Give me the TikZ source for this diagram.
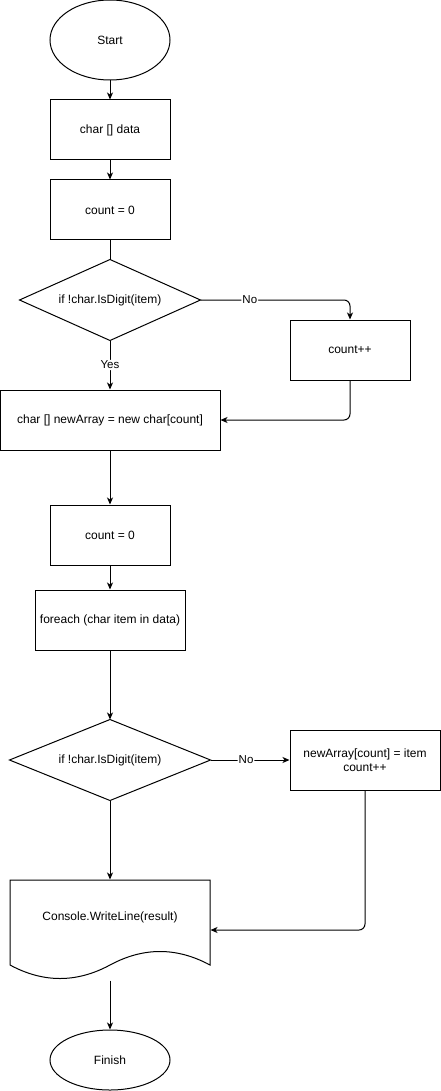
\documentclass[tikz,border=0pt]{standalone}
\usepackage{fontspec}
\setmainfont{Liberation Sans}
\usetikzlibrary{shapes.geometric,arrows.meta}
\begin{document}
\begin{tikzpicture}[x=1pt,y=-1pt,
  every node/.style={font=\fontsize{12}{14.5}\selectfont, inner sep=0pt, line width=1pt},
  procbox/.style={draw, rectangle, align=center},
  termbox/.style={draw, ellipse},
  decarea/.style={rectangle},
  conn/.style={line width=1pt, -{Stealth[length=7pt,width=6pt,inset=2pt]}, rounded corners=6pt},
  plainconn/.style={line width=1pt},
  shapeline/.style={line width=1pt},
  lbl/.style={fill=white, inner sep=1pt, font=\fontsize{11.5}{13}\selectfont}
]
\useasboundingbox (0,0) rectangle (441,1091);
\node[termbox, minimum width=120pt, minimum height=80pt] (start) at (110,40) {Start};
\node[procbox, minimum width=120pt, minimum height=60pt] (data) at (110,130) {char [] data};
\node[procbox, minimum width=120pt, minimum height=60pt] (cnt1) at (110,210) {count = 0};
\node[decarea, minimum width=180pt, minimum height=80pt] (dec1) at (110,300) {if !char.IsDigit(item)};
\draw[shapeline] (dec1.north) -- (dec1.east) -- (dec1.south) -- (dec1.west) -- cycle;
\node[procbox, minimum width=120pt, minimum height=60pt] (inc1) at (350,350) {count++};
\node[procbox, minimum width=220pt, minimum height=60pt] (newarr) at (110,420) {char [] newArray = new char[count]};
\node[procbox, minimum width=120pt, minimum height=60pt] (cnt2) at (110,535) {count = 0};
\node[procbox, minimum width=150pt, minimum height=60pt] (fe) at (110,620) {foreach (char item in data)};
\node[decarea, minimum width=200pt, minimum height=80pt] (dec2) at (110,760) {if !char.IsDigit(item)};
\draw[shapeline] (dec2.north) -- (dec2.east) -- (dec2.south) -- (dec2.west) -- cycle;
\node[procbox, minimum width=150pt, minimum height=60pt] (assign) at (365,760) {newArray[count] = item\\count++};
\node[rectangle, minimum width=200pt, minimum height=100pt, label={[yshift=13pt]center:Console.WriteLine(result)}] (doc) at (110,930) {};
\draw[shapeline] (10,880) -- (210,880) -- (210,965)
  .. controls (176.67,947) and (143.33,947) .. (110,965)
  .. controls (76.67,983) and (43.33,983) .. (10,965) -- cycle;
\node[termbox, minimum width=120pt, minimum height=60pt] (finish) at (110,1060) {Finish};

\draw[conn] (start) -- (data);
\draw[conn] (data) -- (cnt1);
\draw[plainconn] (cnt1) -- (dec1.north);
\draw[conn] (dec1.east) -- (inc1.north |- dec1.east) node[lbl, pos=0.33] {No} -- (inc1.north);
\draw[conn] (dec1.south) -- (newarr.north) node[lbl, pos=0.5] {Yes};
\draw[conn] (inc1.south) -- (inc1.south |- newarr.east) -- (newarr.east);
\draw[conn] (newarr) -- (cnt2);
\draw[conn] (cnt2) -- (fe);
\draw[conn] (fe) -- (dec2.north);
\draw[conn] (dec2.east) -- (assign.west) node[lbl, pos=0.45] {No};
\draw[conn] (dec2.south) -- (doc.north);
\draw[conn] (assign.south) -- (assign.south |- doc.east) -- (doc.east);
\draw[conn] (doc.south) -- (finish.north);
\end{tikzpicture}
\end{document}
